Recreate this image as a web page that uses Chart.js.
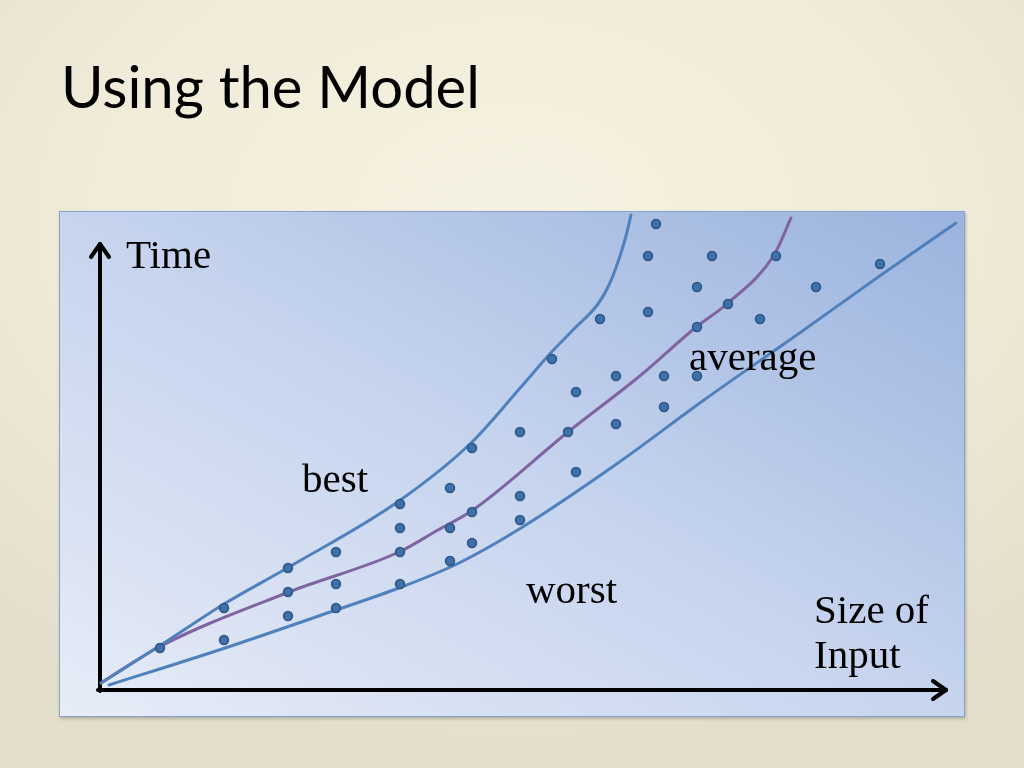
<!DOCTYPE html>
<html lang="en">
<head>
<meta charset="utf-8"/>
<title>Using the Model</title>
<script src="https://cdn.jsdelivr.net/npm/chart.js@4.4.0/dist/chart.umd.min.js"></script>
<style>
    html, body {
        margin: 0;
        padding: 0;
    }
    body {
        width: 1024px;
        height: 768px;
        position: relative;
        overflow: hidden;
        background: radial-gradient(ellipse 75% 70% at 50% 28%, #f6f2e1 0%, #f1ecd9 55%, #e3dfcc 100%);
    }
    .title {
        position: absolute;
        left: 61px;
        top: 57px;
        font-family: 'Lato', sans-serif;
        font-size: 58px;
        line-height: 1;
        color: #000;
        white-space: nowrap;
    }
    .box {
        position: absolute;
        left: 59px;
        top: 211px;
        width: 904px;
        height: 504px;
        border: 1px solid #86a2cf;
        background: linear-gradient(to top right, #e7ecf7 0%, #c6d4ee 50%, #9bb3de 100%);
        box-shadow: 1px 2px 3px rgba(90, 90, 70, 0.35);
    }
    .box canvas {
        position: absolute;
        left: 0;
        top: 0;
    }
    .lbl {
        position: absolute;
        font-family: 'Liberation Serif', serif;
        font-size: 41px;
        line-height: 1;
        color: #000;
        white-space: nowrap;
    }
</style>
</head>
<body>
<div class="title">Using the Model</div>
<div class="box">
    <canvas id="chart1" width="904" height="504"></canvas>
</div>
<div class="lbl" style="left:126px; top:234px;">Time</div>
<div class="lbl" style="left:302px; top:458px;">best</div>
<div class="lbl" style="left:689px; top:336px;">average</div>
<div class="lbl" style="left:526px; top:569px;">worst</div>
<div class="lbl" style="left:814px; top:589px;">Size of</div>
<div class="lbl" style="left:814px; top:634px;">Input</div>

<script>
    // x = size of input, y = time (both measured from the axes origin)
    var bestX = [0, 60, 123, 188, 298, 370, 420, 447, 472, 497, 508, 517, 525, 530];
    var bestY = [5, 43, 84, 121, 187, 245, 301, 332, 358, 384, 403, 426, 452, 473];

    var avgX = [0, 58, 188, 298, 337, 372, 467, 540, 594, 627, 673, 690];
    var avgY = [5, 41, 96, 136, 158, 178, 256, 313, 360, 385, 433, 470];

    var worstX = [8, 118, 235, 298, 358, 420, 517, 603, 700, 780, 855];
    var worstY = [3, 38, 78, 100, 125, 160, 225, 288, 356, 413, 465];

    var runX = [59, 123, 123, 187, 187, 187, 235, 235, 235, 299, 299, 299, 299,
                349, 349, 349, 371, 371, 371, 419, 419, 419, 451, 467, 475, 475,
                499, 515, 515, 547, 547, 555, 563, 563, 596, 596, 596, 611, 627,
                659, 675, 715, 779];
    var runY = [40, 80, 48, 120, 96, 72, 136, 104, 80, 184, 160, 136, 104,
                200, 160, 127, 240, 176, 145, 256, 192, 168, 329, 256, 296, 216,
                369, 312, 264, 432, 376, 464, 312, 281, 401, 361, 312, 432, 384,
                369, 432, 401, 424];

    // axis arrows
    var yAxisX = [-1, -1];
    var yAxisY = [-3, 444];
    var yHeadX = [-10, -1, 8];
    var yHeadY = [431, 444, 431];
    var xAxisX = [-3, 845];
    var xAxisY = [-2, -2];
    var xHeadX = [832, 845, 832];
    var xHeadY = [7, -2, -11];

    function pts(xs, ys) {
        return xs.map(function (x, i) { return {x: x, y: ys[i]}; });
    }

    function curve(label, xs, ys, color) {
        return {
            label: label,
            data: pts(xs, ys),
            showLine: true,
            borderColor: color,
            borderWidth: 3,
            borderCapStyle: 'round',
            pointRadius: 0,
            cubicInterpolationMode: 'monotone',
            fill: false
        };
    }

    function stroke(label, xs, ys) {
        return {
            label: label,
            data: pts(xs, ys),
            showLine: true,
            borderColor: '#000000',
            borderWidth: 4,
            borderCapStyle: 'round',
            borderJoinStyle: 'round',
            pointRadius: 0,
            tension: 0,
            fill: false
        };
    }

    var ctx = document.getElementById('chart1').getContext('2d');
    var chart1 = new Chart(ctx, {
        type: 'scatter',
        data: {
            datasets: [
                {
                    label: 'runs',
                    data: pts(runX, runY),
                    pointRadius: 4.5,
                    pointBackgroundColor: '#3f70a8',
                    pointBorderColor: '#2b5487',
                    pointBorderWidth: 1.5,
                    showLine: false
                },
                curve('best', bestX, bestY, '#4f81bd'),
                curve('average', avgX, avgY, '#8064a2'),
                curve('worst', worstX, worstY, '#4f81bd'),
                stroke('y axis', yAxisX, yAxisY),
                stroke('y head', yHeadX, yHeadY),
                stroke('x axis', xAxisX, xAxisY),
                stroke('x head', xHeadX, xHeadY)
            ]
        },
        options: {
            responsive: false,
            animation: false,
            layout: { padding: 0, autoPadding: false },
            plugins: {
                legend: { display: false },
                tooltip: { enabled: false }
            },
            scales: {
                x: {
                    type: 'linear',
                    min: -41,
                    max: 863,
                    display: false
                },
                y: {
                    type: 'linear',
                    min: -28,
                    max: 476,
                    display: false
                }
            }
        }
    });
</script>
</body>
</html>
